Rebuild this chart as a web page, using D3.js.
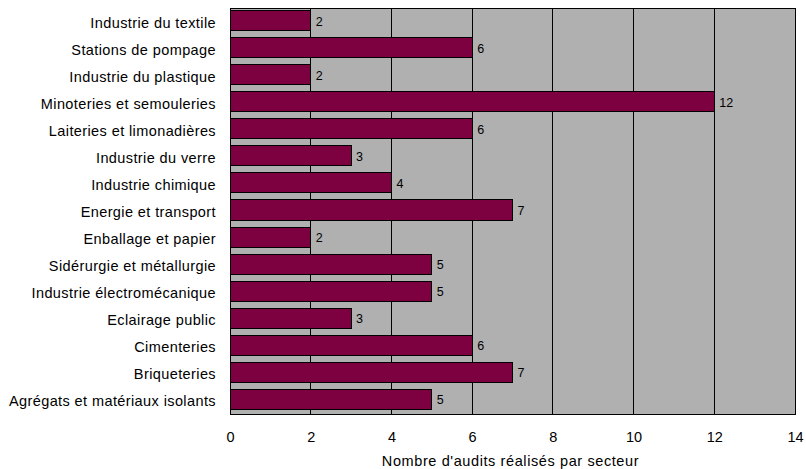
<!DOCTYPE html>
<html>
<head>
<meta charset="utf-8">
<script src="https://cdn.jsdelivr.net/npm/d3@7"></script>
<style>
  body { margin: 0; background: #fff; }
  text { font-family: "Liberation Sans", Arial, sans-serif; fill: #000; }
</style>
</head>
<body>
<div id="chart"></div>
<script>
// data
var sectors = ["Industrie du textile", "Stations de pompage", "Industrie du plastique",
  "Minoteries et semouleries", "Laiteries et limonadières", "Industrie du verre",
  "Industrie chimique", "Energie et transport", "Enballage et papier",
  "Sidérurgie et métallurgie", "Industrie électromécanique", "Eclairage public",
  "Cimenteries", "Briqueteries", "Agrégats et matériaux isolants"];
var audits = [2, 6, 2, 12, 6, 3, 4, 7, 2, 5, 5, 3, 6, 7, 5];
var xTicks = [0, 2, 4, 6, 8, 10, 12, 14];

var svgWidth = 806, svgHeight = 469;
var margin = {top: 8, right: 11, bottom: 55, left: 230};
var width = svgWidth - margin.left - margin.right;
var height = svgHeight - margin.top - margin.bottom;

var svg = d3.select("#chart").append("svg")
  .attr("width", svgWidth)
  .attr("height", svgHeight);

var chart = svg.append("g")
  .attr("transform", `translate(${margin.left}, ${margin.top})`);

var x = d3.scaleLinear().domain([0, 14]).range([0, width]);
var y = d3.scaleBand().domain(sectors).range([-1, height - 1]).paddingInner(0.26).paddingOuter(0.13);

// plot background
chart.append("rect")
  .attr("width", width).attr("height", height)
  .attr("fill", "#b0b0b0");

// gridlines
chart.selectAll(".grid")
  .data(xTicks.slice(1, -1))
  .enter().append("line")
  .attr("x1", d => x(d)).attr("x2", d => x(d))
  .attr("y1", 0).attr("y2", height)
  .attr("stroke", "#000").attr("stroke-width", 1)
  .attr("shape-rendering", "crispEdges");

// border
chart.append("rect")
  .attr("width", width).attr("height", height)
  .attr("fill", "none").attr("stroke", "#000").attr("stroke-width", 1)
  .attr("shape-rendering", "crispEdges");

// bars
chart.selectAll(".bar")
  .data(audits)
  .enter().append("rect")
  .attr("x", x(0))
  .attr("y", (d, i) => y(sectors[i]))
  .attr("width", d => x(d) - x(0))
  .attr("height", y.bandwidth())
  .attr("fill", "#7d0040")
  .attr("stroke", "#000").attr("stroke-width", 1)
  .attr("shape-rendering", "crispEdges");

// value labels
chart.selectAll(".val")
  .data(audits)
  .enter().append("text")
  .attr("x", d => x(d) + 5)
  .attr("y", (d, i) => y(sectors[i]) + y.bandwidth() / 2 + 5)
  .attr("font-size", 12.5)
  .text(d => d);

// category labels
var left = d3.axisLeft(y).tickSize(0).tickPadding(14);
chart.append("g").call(left)
  .call(g => g.select(".domain").remove())
  .selectAll("text")
  .attr("dy", null).attr("y", 7)
  .attr("font-size", 14.5)
  .attr("letter-spacing", 0.4);

// x axis
var bottom = d3.axisBottom(x).tickValues(xTicks).tickSize(0).tickPadding(18);
chart.append("g")
  .attr("transform", `translate(0, ${height})`)
  .call(bottom)
  .call(g => g.select(".domain").remove())
  .selectAll("text").attr("font-size", 14.5);

// axis title
svg.append("text")
  .attr("x", margin.left + width / 2 - 2)
  .attr("y", 466)
  .attr("text-anchor", "middle")
  .attr("font-size", 14.5)
  .attr("letter-spacing", 0.6)
  .text("Nombre d'audits réalisés par secteur");
</script>
</body>
</html>
